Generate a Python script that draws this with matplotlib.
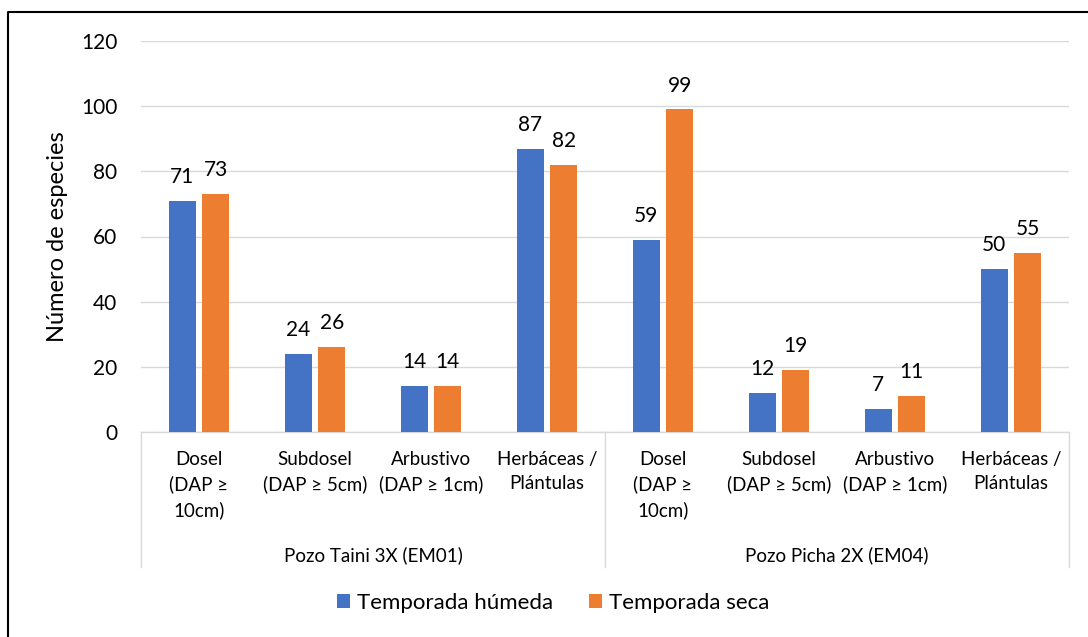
import numpy as np
import matplotlib.pyplot as plt
from matplotlib.lines import Line2D
from matplotlib.transforms import blended_transform_factory

plt.rcParams['font.family'] = ['Lato', 'DejaVu Sans']

# datos
categorias = ["Dosel\n(DAP ≥\n10cm)", "Subdosel\n(DAP ≥ 5cm)", "Arbustivo\n(DAP ≥ 1cm)", "Herbáceas /\nPlántulas",
              "Dosel\n(DAP ≥\n10cm)", "Subdosel\n(DAP ≥ 5cm)", "Arbustivo\n(DAP ≥ 1cm)", "Herbáceas /\nPlántulas"]
grupos = ["Pozo Taini 3X (EM01)", "Pozo Picha 2X (EM04)"]
humeda = [71, 24, 14, 87, 59, 12, 7, 50]
seca = [73, 26, 14, 82, 99, 19, 11, 55]
series = ["Temporada húmeda", "Temporada seca"]

azul = '#4472C4'
naranja = '#ED7D31'
gris = '#D9D9D9'

W, H = 1088, 637
izq, der, arriba, base = 141, 1069, 41, 432
fig = plt.figure(figsize=(W / 100, H / 100), dpi=100)
ax = fig.add_axes([izq / W, (H - base) / H, (der - izq) / W, (base - arriba) / H])

x = np.arange(len(categorias))
ancho = 0.232
b1 = ax.bar(x - 0.144, humeda, ancho, color=azul, label=series[0], zorder=3)
b2 = ax.bar(x + 0.144, seca, ancho, color=naranja, label=series[1], zorder=3)

for barras in (b1, b2):
    for b in barras:
        ax.annotate(f"{int(b.get_height())}", (b.get_x() + b.get_width() / 2, b.get_height()),
                    xytext=(0, 10), textcoords='offset points', ha='center', va='bottom',
                    fontsize=15, color='#000000')

ax.set_xlim(-0.5, len(categorias) - 0.5)
ax.set_ylim(0, 120)
ax.set_yticks(np.arange(0, 121, 20))
ax.tick_params(axis='y', length=0, pad=17, labelsize=15)
ax.set_xticks([])
ax.grid(axis='y', color=gris, linewidth=1, zorder=0)
for s in ['top', 'right', 'left']:
    ax.spines[s].set_visible(False)
ax.spines['bottom'].set_color(gris)
ax.spines['bottom'].set_linewidth(1)

ax.set_ylabel("Número de especies", fontsize=17)
ax.yaxis.set_label_coords(-(izq - 58) / (der - izq), 0.5)
ax.yaxis.label.set_va('center')

# etiquetas de categoria en dos niveles
trans = blended_transform_factory(ax.transData, ax.transAxes)
alto = base - arriba
for i, c in enumerate(categorias):
    ax.text(i, (base - 451) / alto, c, transform=trans, ha='center', va='top',
            fontsize=13.5, linespacing=1.5)
for j, g in enumerate(grupos):
    ax.text(j * 4 + 1.5, (base - 555) / alto, g, transform=trans, ha='center', va='center',
            fontsize=13.5)
for xs in (-0.5, 3.5, 7.5):
    ax.plot([xs, xs], [0, (base - 567) / alto], transform=trans, color=gris,
            linewidth=1, clip_on=False)

fig.legend(handles=[b1, b2], labels=series, loc='center', bbox_to_anchor=(553 / W, (H - 603) / H),
           ncol=2, frameon=False, fontsize=16, handlelength=0.6, handleheight=0.6,
           handletextpad=0.3, columnspacing=1.6)

# marco (solo izquierda y arriba quedan dentro de la imagen)
fig.add_artist(Line2D([8 / W, 8 / W, 1], [0, (H - 12) / H, (H - 12) / H],
                      transform=fig.transFigure, color='black', linewidth=1.5))

fig.savefig('out.png', dpi=100)
